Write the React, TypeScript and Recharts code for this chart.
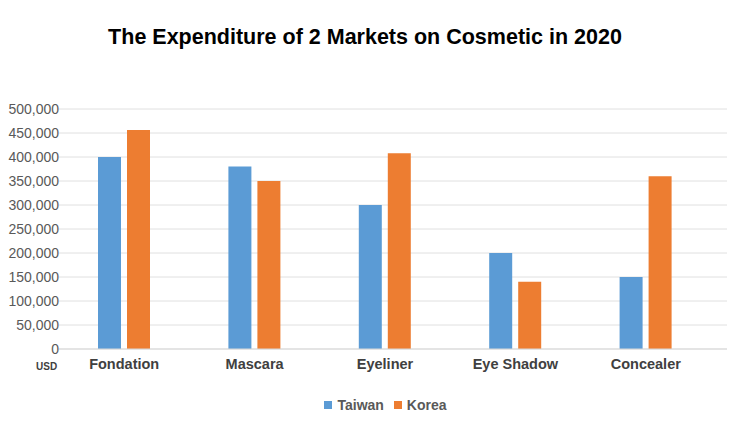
import { BarChart, Bar, XAxis, YAxis, CartesianGrid, Legend } from "recharts";

const categories = ["Fondation", "Mascara", "Eyeliner", "Eye Shadow", "Concealer"];
const taiwan = [400000, 380000, 300000, 200000, 150000];
const korea = [456000, 350000, 408000, 140000, 360000];
const yTicks = [0, 50000, 100000, 150000, 200000, 250000, 300000, 350000, 400000, 450000, 500000];

const BLUE = "#5B9BD5";
const ORANGE = "#ED7D31";
const FONT = "'Liberation Sans', Arial, sans-serif";

const data = categories.map((name, i) => ({ name, Taiwan: taiwan[i], Korea: korea[i] }));

// legend drawn by hand so it looks like the Excel one
const renderLegend = () => (
  <div style={{ display: "flex", justifyContent: "center", gap: 10, paddingLeft: 44, fontFamily: FONT, fontSize: 14, fontWeight: "bold", color: "#595959" }}>
    {[["Taiwan", BLUE], ["Korea", ORANGE]].map(([label, color]) => (
      <span key={label} style={{ display: "flex", alignItems: "center" }}>
        <span style={{ width: 8, height: 8, background: color, marginRight: 5, display: "inline-block" }} />
        {label}
      </span>
    ))}
  </div>
);

export default function App() {
  return (
    <div style={{ position: "relative", width: 740, height: 427, background: "#fff", fontFamily: FONT }}>
      <style>{"body{margin:0}"}</style>
      <div style={{ position: "absolute", top: 25, left: 0, width: 730, textAlign: "center", fontSize: 21.5, fontWeight: "bold", color: "#000" }}>
        The Expenditure of 2 Markets on Cosmetic in 2020
      </div>
      <div style={{ position: "absolute", top: 361, left: 36, fontSize: 10, fontWeight: "bold", color: "#404040" }}>USD</div>
      <BarChart
        width={740}
        height={427}
        data={data}
        margin={{ top: 109, right: 13, bottom: 17, left: 0 }}
        barCategoryGap="30%"
        barGap={6}
      >
        <CartesianGrid vertical={false} stroke="#e0e0e0" />
        <XAxis
          dataKey="name"
          padding={{ left: 0, right: 16 }}
          axisLine={{ stroke: "#d9d9d9" }}
          tickLine={false}
          height={45}
          tick={{ fill: "#404040", fontSize: 14.5, fontWeight: "bold", fontFamily: FONT }}
          tickMargin={4}
        />
        <YAxis
          width={59}
          domain={[0, 500000]}
          ticks={yTicks}
          interval={0}
          axisLine={false}
          tickLine={false}
          tickSize={0}
          tickMargin={0}
          tickFormatter={(v) => v.toLocaleString("en-US")}
          tick={{ fill: "#595959", fontSize: 14, fontFamily: FONT }}
        />
        <Legend verticalAlign="bottom" content={renderLegend} wrapperStyle={{ bottom: 14 }} />
        <Bar dataKey="Taiwan" fill={BLUE} barSize={23} isAnimationActive={false} />
        <Bar dataKey="Korea" fill={ORANGE} barSize={23} isAnimationActive={false} />
      </BarChart>
    </div>
  );
}
